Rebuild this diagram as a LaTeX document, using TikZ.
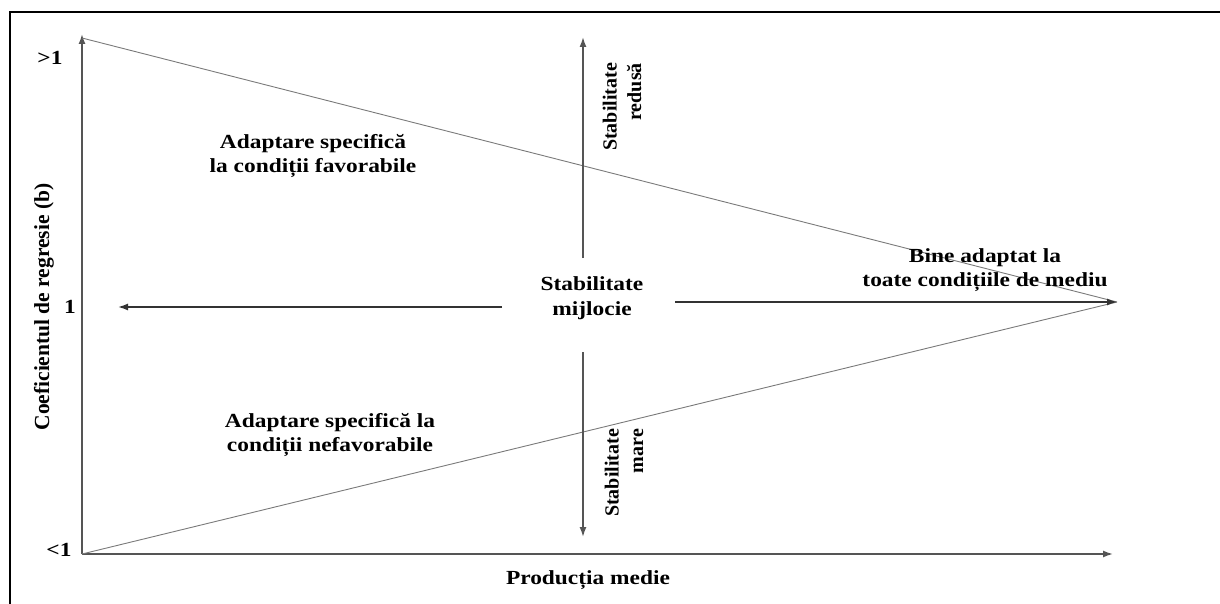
\documentclass[tikz,border=0pt]{standalone}
\usepackage{fontspec}
\setmainfont{Liberation Serif}
\usetikzlibrary{arrows.meta}
\definecolor{axisgray}{HTML}{555555}
\definecolor{linegray}{HTML}{7A7A7A}

\begin{document}
\begin{tikzpicture}[x=1pt, y=-1pt,
    every node/.style={font=\bfseries\fontsize{20}{24.5}\selectfont, inner sep=0pt, align=center},
    wide/.style={xscale=1.17},
    vlabel/.style={rotate=90, align=right},
    axis/.style={draw=axisgray, line width=1.6pt, -{Latex[length=10pt,width=7pt]}},
    trend/.style={draw=linegray, line width=0.9pt},
    flow/.style={draw=black!80, line width=1.5pt, -{Latex[length=10pt,width=7pt]}}
  ]
  \useasboundingbox (0,0) rectangle (1220,604);
  \clip (0,0) rectangle (1220,604);
  % frame
  \draw[line width=2.4pt] (10,625) -- (10,12) -- (1240,12);

  % axes and the two trend lines
  \coordinate (orig) at (82,554);
  \coordinate (ytop) at (82,34);
  \coordinate (xend) at (1113,554);
  \coordinate (hi) at (82,38);
  \coordinate (apex) at (1117,302);
  \draw[axis] (orig) -- (ytop);
  \draw[axis] (orig) -- (xend);
  \draw[trend] (hi) -- (apex);
  \draw[trend] (orig) -- (apex);

  % centre and arrows
  \node[wide] (mid) at (592,298) {Stabilitate\\mijlocie};
  \coordinate (lstart) at (502,307);
  \coordinate (lend) at (118,307);
  \coordinate (rstart) at (675,302);
  \coordinate (ustart) at (583,258);
  \coordinate (uend) at (583,37);
  \coordinate (dstart) at (583,352);
  \coordinate (dend) at (583,537);
  \draw[flow] (lstart) -- (lend);
  \draw[flow] (rstart) -- (apex);
  \draw[axis] (ustart) -- (uend);
  \draw[axis] (dstart) -- (dend);

  % labels
  \node[wide] (fav) at (313,156) {Adaptare specifică\\la condiții favorabile};
  \node[wide] (unfav) at (330,435) {Adaptare specifică la\\condiții nefavorabile};
  \node[wide] (good) at (985,270) {Bine adaptat la\\toate condițiile de mediu};
  \node[wide] (prod) at (588,580) {Producția medie};
  \node[vlabel] (redusa) at (622,107) {Stabilitate\\redusă};
  \node[vlabel] (mare) at (624,473) {Stabilitate\\mare};
  \node[rotate=90, font=\bfseries\fontsize{21.5}{25}\selectfont] (ylab) at (44,307) {Coeficientul de regresie (b)};
  \node[wide] (tgt) at (50,58) {>1};
  \node[wide] (tone) at (70,307) {1};
  \node[wide] (tlt) at (59,550) {<1};
\end{tikzpicture}
\end{document}
